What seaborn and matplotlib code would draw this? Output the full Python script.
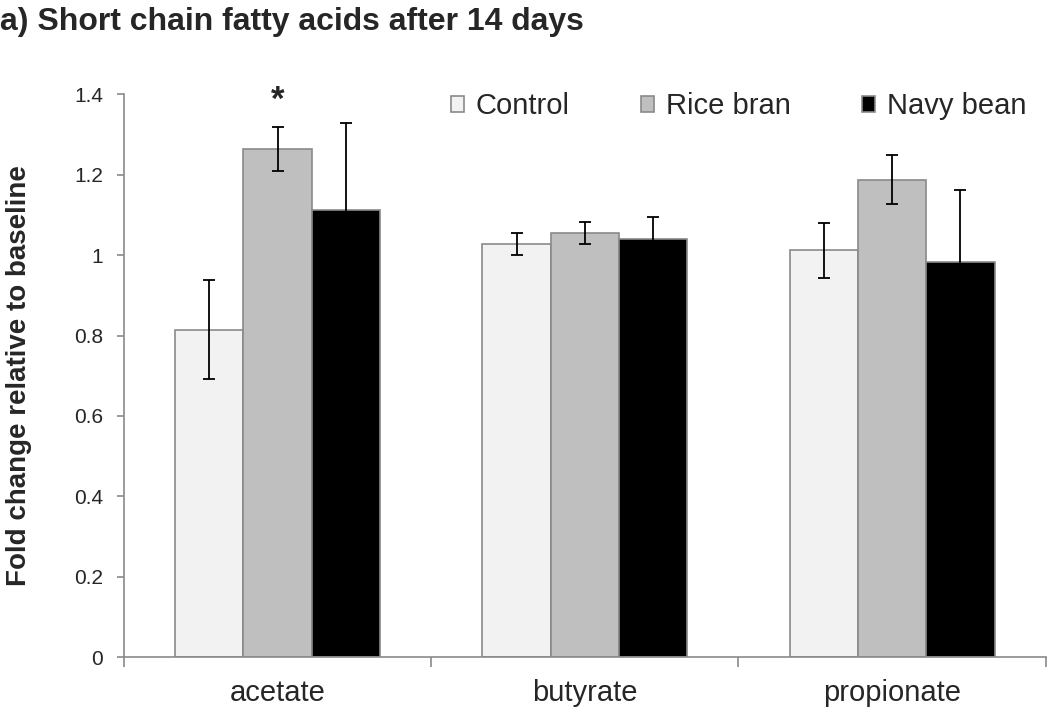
import pandas as pd
import numpy as np
import matplotlib
matplotlib.use("Agg")
import matplotlib.pyplot as plt
import seaborn as sns

# values (fold change vs baseline, mean and error)
acids = ["acetate", "butyrate", "propionate"]
groups = ["Control", "Rice bran", "Navy bean"]
control_mean = [0.815, 1.028, 1.012]
control_err = [0.122, 0.027, 0.068]
rice_mean = [1.264, 1.055, 1.188]
rice_err = [0.054, 0.028, 0.062]
navy_mean = [1.112, 1.040, 0.983]
navy_err = [0.217, 0.055, 0.180]
y_ticks = [0, 0.2, 0.4, 0.6, 0.8, 1.0, 1.2, 1.4]

colors = ["#f2f2f2", "#bfbfbf", "#000000"]
edge = "#8a8a8a"


def build_frame():
    rows = []
    for g, means, errs in zip(groups, [control_mean, rice_mean, navy_mean],
                              [control_err, rice_err, navy_err]):
        for a, m, e in zip(acids, means, errs):
            rows.append({"acid": a, "group": g, "value": m, "err": e})
    return pd.DataFrame(rows)


df = build_frame()

sns.set_style("white")
plt.rcParams["font.family"] = ["Liberation Sans", "DejaVu Sans"]

fig = plt.figure(figsize=(10.5, 7.09), dpi=100)
ax = fig.add_axes([0.118, 0.073, 0.878, 0.794])

sns.barplot(data=df, x="acid", y="value", hue="group", order=acids,
            hue_order=groups, palette=colors, errorbar=None, width=0.667,
            gap=0, edgecolor=edge, linewidth=1.2, legend=False, ax=ax)

# error bars on top of each bar
for g, cont in zip(groups, ax.containers):
    sub = df[df["group"] == g].set_index("acid").loc[acids]
    xs = [b.get_x() + b.get_width() / 2 for b in cont]
    ax.errorbar(xs, sub["value"], yerr=sub["err"], fmt="none", ecolor="black",
                elinewidth=1.3, capsize=4, capthick=1.3, zorder=5)

# significance marker
rb = ax.containers[1][0]
ax.text(rb.get_x() + rb.get_width() / 2, 1.345, "*", ha="center", va="bottom",
        fontsize=25, fontweight="bold")

ax.set_ylim(0, 1.4)
ax.set_xlim(-0.5, 2.5)
ax.set_yticks(y_ticks)
ax.set_yticklabels([f"{t:g}" for t in y_ticks])
ax.set_xticks(range(len(acids)))
ax.set_xticklabels(acids)
ax.set_xticks([-0.5, 0.5, 1.5, 2.5], minor=True)
ax.tick_params(axis="x", which="major", length=0, labelsize=21, pad=16)
ax.tick_params(axis="x", which="minor", length=7, color=edge, width=1.2,
               direction="out", bottom=True)
ax.tick_params(axis="y", length=5, color=edge, width=1.2, direction="out",
               left=True, labelsize=15, pad=10)

for s in ["top", "right"]:
    ax.spines[s].set_visible(False)
for s in ["left", "bottom"]:
    ax.spines[s].set_color(edge)
    ax.spines[s].set_linewidth(1.2)

ax.set_xlabel("")
ax.set_ylabel("Fold change relative to baseline", fontsize=20,
              fontweight="bold", labelpad=30)

ax.legend(handles=list(ax.containers), labels=groups, ncol=3, frameon=False,
          loc="upper left", bbox_to_anchor=(0.326, 1.05), fontsize=21,
          handlelength=0.45, handleheight=0.45, handletextpad=0.4,
          columnspacing=2.45)

fig.text(0.0, 0.99, "a) Short chain fatty acids after 14 days", fontsize=23,
         fontweight="bold", ha="left", va="top")

fig.savefig("out.png", dpi=100)
